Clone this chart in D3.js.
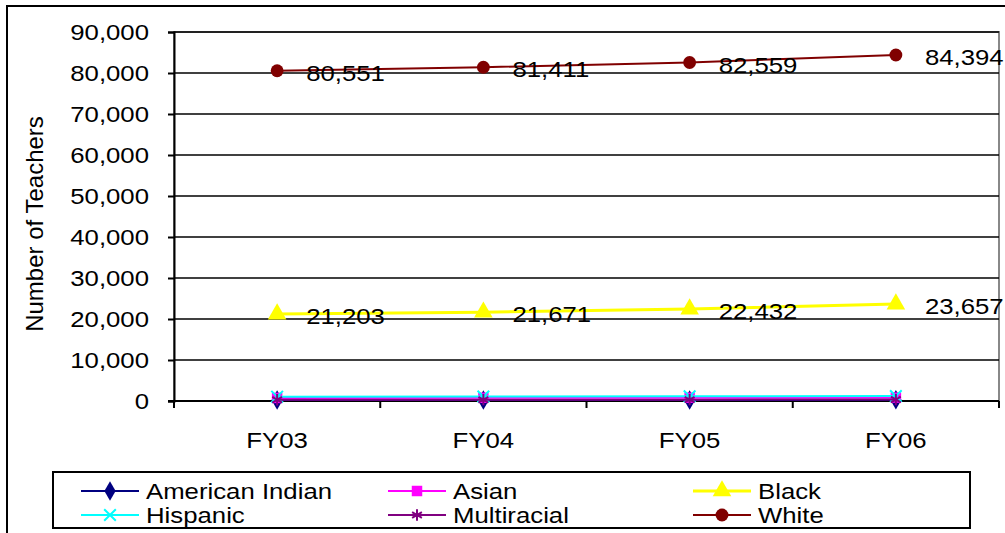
<!DOCTYPE html>
<html>
<head>
<meta charset="utf-8">
<script src="https://cdn.jsdelivr.net/npm/d3@7"></script>
<style>
  body { margin: 0; background: #fff; }
  svg text { font-family: "Liberation Sans", Arial, sans-serif; fill: #000; }
</style>
</head>
<body>
<svg width="1005" height="533"></svg>
<script>
var years = ["FY03", "FY04", "FY05", "FY06"];
var americanIndian = [250, 260, 270, 280];
var asian = [750, 780, 800, 830];
var black = [21203, 21671, 22432, 23657];
var hispanic = [1050, 1100, 1150, 1200];
var multiracial = [300, 320, 330, 350];
var white = [80551, 81411, 82559, 84394];
var yTicks = [0, 10000, 20000, 30000, 40000, 50000, 60000, 70000, 80000, 90000];

var series = [
  {name: "American Indian", values: americanIndian, color: "#000080", symbol: d3.symbolDiamond, size: 110, width: 2},
  {name: "Asian", values: asian, color: "#ff00ff", symbol: d3.symbolSquare, size: 110, width: 2},
  {name: "Black", values: black, color: "#ffff00", symbol: d3.symbolTriangle, size: 150, width: 3, labels: true},
  {name: "Hispanic", values: hispanic, color: "#00ffff", symbol: d3.symbolX, size: 90, width: 2},
  {name: "Multiracial", values: multiracial, color: "#800080", symbol: d3.symbolAsterisk, size: 90, width: 2},
  {name: "White", values: white, color: "#800000", symbol: d3.symbolCircle, size: 130, width: 2, labels: true}
];

var svg = d3.select("svg");
var sx = 1.12, fs = 23;

// stretched text helper
function label(g, x, y, txt, anchor) {
  return g.append("text")
    .attr("transform", "translate(" + x + "," + y + ") scale(" + sx + ",1)")
    .attr("text-anchor", anchor || "start")
    .attr("dominant-baseline", "central")
    .style("font-size", fs + "px")
    .text(txt);
}

// outer frame
svg.append("rect").attr("x", 7).attr("y", 6).attr("width", 1100).attr("height", 600)
  .attr("fill", "none").attr("stroke", "#000").attr("stroke-width", 2);

var x = d3.scaleBand().domain(years).range([174, 999]);
var y = d3.scaleLinear().domain([0, 90000]).range([401, 32]);
var fmt = d3.format(",");

// plot area border
svg.append("rect").attr("x", 174).attr("y", 32).attr("width", 825).attr("height", 369)
  .attr("fill", "none").attr("stroke", "#888").attr("stroke-width", 2);

// gridlines
svg.append("g").selectAll("line").data(yTicks.slice(1)).enter().append("line")
  .attr("x1", 174).attr("x2", 999)
  .attr("y1", function(d) { return y(d); }).attr("y2", function(d) { return y(d); })
  .attr("stroke", "#000").attr("stroke-width", 1.5);

// y axis
var yAxis = svg.append("g").attr("transform", "translate(174,0)")
  .call(d3.axisLeft(y).tickValues(yTicks).tickSize(6).tickFormat(function() { return ""; }));
yAxis.select(".domain").attr("stroke", "#000").attr("stroke-width", 2);
yAxis.selectAll(".tick line").attr("stroke", "#000").attr("stroke-width", 2);
yTicks.forEach(function(t) { label(svg, 149, y(t), fmt(t), "end"); });

// x axis
var xAxis = svg.append("g").attr("transform", "translate(0,401)");
xAxis.append("line").attr("x1", 168).attr("x2", 999).attr("stroke", "#000").attr("stroke-width", 2);
var bounds = years.map(function(d) { return x(d); }).concat([x.range()[1]]);
xAxis.selectAll("line.tk").data(bounds).enter().append("line").attr("class", "tk")
  .attr("x1", function(d) { return d; }).attr("x2", function(d) { return d; })
  .attr("y1", 0).attr("y2", 7).attr("stroke", "#000").attr("stroke-width", 2);
years.forEach(function(d) { label(svg, x(d) + x.bandwidth() / 2, 440, d, "middle"); });

// y title
svg.append("text")
  .attr("transform", "translate(34,224) rotate(-90)")
  .attr("text-anchor", "middle").attr("dominant-baseline", "central")
  .style("font-size", "24px").text("Number of Teachers");

// series
var cx = function(d, i) { return x(years[i]) + x.bandwidth() / 2; };
var line = d3.line().x(cx).y(function(d) { return y(d); });

series.forEach(function(s) {
  var g = svg.append("g");
  g.append("path").datum(s.values).attr("d", line)
    .attr("fill", "none").attr("stroke", s.color).attr("stroke-width", s.width);
  var sym = d3.symbol().type(s.symbol).size(s.size);
  var stroked = s.symbol === d3.symbolX || s.symbol === d3.symbolAsterisk;
  g.selectAll("path.m").data(s.values).enter().append("path").attr("class", "m")
    .attr("transform", function(d, i) { return "translate(" + cx(d, i) + "," + y(d) + ")"; })
    .attr("d", sym())
    .attr("fill", stroked ? "none" : s.color)
    .attr("stroke", stroked ? s.color : "none").attr("stroke-width", 2);
  if (s.labels) {
    s.values.forEach(function(v, i) { label(svg, cx(v, i) + 29, y(v) + 2, fmt(v)); });
  }
});

// legend
var lg = svg.append("g");
lg.append("rect").attr("x", 53).attr("y", 472).attr("width", 917).attr("height", 56)
  .attr("fill", "#fff").attr("stroke", "#000").attr("stroke-width", 2);
var colX = [81, 388, 693], rowY = [491, 515];
series.forEach(function(s, i) {
  var lx = colX[i % 3], ly = rowY[Math.floor(i / 3)];
  lg.append("line").attr("x1", lx).attr("x2", lx + 58).attr("y1", ly).attr("y2", ly)
    .attr("stroke", s.color).attr("stroke-width", s.width);
  var stroked = s.symbol === d3.symbolX || s.symbol === d3.symbolAsterisk;
  lg.append("path").attr("transform", "translate(" + (lx + 29) + "," + ly + ")")
    .attr("d", d3.symbol().type(s.symbol).size(s.size)())
    .attr("fill", stroked ? "none" : s.color)
    .attr("stroke", stroked ? s.color : "none").attr("stroke-width", 2);
  label(lg, lx + 65, ly, s.name);
});
</script>
</body>
</html>
